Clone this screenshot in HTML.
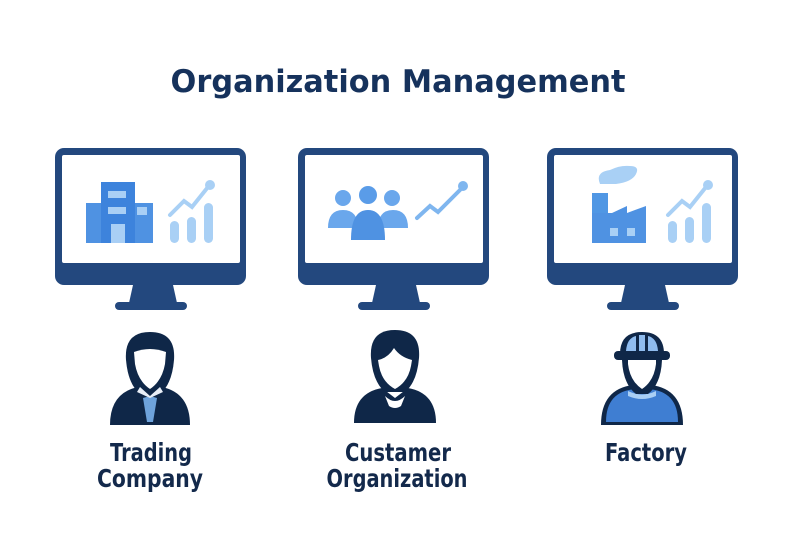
<!DOCTYPE html>
<html><head><meta charset="utf-8"><style>
body{margin:0;background:#fff}
svg{display:block}
text{font-family:"DejaVu Sans","Liberation Sans",sans-serif}
.lb{font-family:"Liberation Sans",sans-serif}
</style></head><body>
<svg width="800" height="533" viewBox="0 0 800 533" xmlns="http://www.w3.org/2000/svg">
<defs>
<g id="mon">
<rect x="0" y="0" width="191" height="137" rx="9" fill="#23487e"/>
<rect x="7" y="7" width="178" height="108" rx="2" fill="#fff"/>
<path d="M78 137 L118 137 L122 155 L74 155 Z" fill="#23487e"/>
<rect x="60" y="154" width="72" height="8" rx="4" fill="#23487e"/>
</g>
<g id="chart">
<rect x="0" y="28" width="9" height="22" rx="4.5" fill="#a9d0f5"/>
<rect x="17" y="24" width="9" height="26" rx="4.5" fill="#a9d0f5"/>
<rect x="34" y="10" width="9" height="40" rx="4.5" fill="#a9d0f5"/>
<polyline points="0,22 14,8 22,14 38,-6" fill="none" stroke="#a9d0f5" stroke-width="4" stroke-linecap="round"/>
<circle cx="40" cy="-8" r="5" fill="#a9d0f5"/>
</g>
</defs>
<text x="398" y="92" text-anchor="middle" font-size="31" font-weight="bold" fill="#16325c" textLength="455" lengthAdjust="spacingAndGlyphs">Organization Management</text>

<use href="#mon" x="55" y="148"/>
<rect x="86" y="203" width="67" height="40" fill="#4f92e2"/>
<rect x="101" y="182" width="34" height="61" fill="#3d83dc"/>
<rect x="108" y="191" width="18" height="7" fill="#a9cff5"/>
<rect x="108" y="207" width="18" height="7" fill="#a9cff5"/>
<rect x="137" y="207" width="10" height="8" fill="#a9cff5"/>
<rect x="111" y="224" width="14" height="19" fill="#a9cff5"/>
<use href="#chart" x="170" y="193"/>

<use href="#mon" x="298" y="148"/>
<circle cx="343" cy="198" r="8" fill="#6aa7ec"/>
<circle cx="368" cy="195" r="9" fill="#5a9ce8"/>
<circle cx="392" cy="198" r="8" fill="#6aa7ec"/>
<path d="M328 228 q0 -18 15 -18 q15 0 15 18 z" fill="#6aa7ec"/>
<path d="M378 228 q0 -18 15 -18 q15 0 15 18 z" fill="#6aa7ec"/>
<path d="M351 240 q0 -30 17 -30 q17 0 17 30 z" fill="#4f92e2"/>
<polyline points="417,218 430,206 438,212 460,190" fill="none" stroke="#7fb6ef" stroke-width="4" stroke-linecap="round"/>
<circle cx="463" cy="186" r="5" fill="#7fb6ef"/>

<use href="#mon" x="547" y="148"/>
<path d="M600 184 q-5 -12 10 -14 q10 -5 20 -4 q10 0 6 8 q-4 8 -20 10 z" fill="#a9d0f5"/>
<rect x="592" y="193" width="16" height="20" fill="#5097e4"/>
<path d="M592 243 L592 213 L612 213 L627 206 L627 213 L646 206 L646 243 Z" fill="#4f92e2"/>
<rect x="610" y="228" width="8" height="8" fill="#a9d0f5"/>
<rect x="627" y="228" width="8" height="8" fill="#a9d0f5"/>
<use href="#chart" x="668" y="193"/>

<g fill="#0f2748">
<path d="M110 425 q0 -32 28 -38 l12 0 l12 0 q28 6 28 38 z"/>
<path d="M126 360 q-2 -28 24 -28 q26 0 24 28 q-2 24 -14 34 h-20 q-12 -10 -14 -34 z"/>
</g>
<path d="M134 352 q16 -6 32 0 l-1 12 q-3 17 -15 25 q-12 -8 -15 -25 z" fill="#fff"/>
<path d="M150 396 l-7 2 l4 24 h6 l4 -24 z" fill="#6ea3dc"/>
<path d="M140 387 l10 9 l10 -9 l3 5 l-13 6 l-13 -6 z" fill="#e8eef7"/>

<g fill="#0f2748">
<path d="M354 423 q0 -30 28 -35 l13 10 l13 -10 q28 5 28 35 z"/>
<path d="M371 358 q-2 -28 24 -28 q26 0 24 28 q-2 24 -14 34 h-20 q-12 -10 -14 -34 z"/>
</g>
<path d="M378 360 q10 -2 16 -12 q6 9 18 12 l-1 6 q-3 16 -16 23 q-13 -7 -16 -23 z" fill="#fff"/>
<path d="M385 396 q10 10 20 0 l-4 10 q-6 4 -12 0 z" fill="#fff"/>

<path d="M601 425 q0 -36 32 -40 h18 q32 4 32 40 z" fill="#0f2748"/>
<path d="M606 422 q0 -31 30 -33 h12 q30 2 30 33 z" fill="#3f7ed2"/>
<path d="M628 391 q14 7 28 0 l0 5 q-14 6 -28 0 z" fill="#a9cff5"/>
<path d="M622 360 h40 q-1 24 -14 34 h-12 q-13 -10 -14 -34 z" fill="#0f2748"/>
<path d="M628 360 h28 v4 q-2 17 -14 25 q-12 -8 -14 -25 z" fill="#fff"/>
<path d="M620 354 q0 -22 22 -22 q22 0 22 22 z" fill="#0f2748"/>
<rect x="614" y="351" width="56" height="9" rx="4" fill="#0f2748"/>
<path d="M626 351 q1 -13 10 -15 v15 z M648 336 q9 2 10 15 h-10 z" fill="#8fbcef"/>
<rect x="639" y="335" width="6" height="16" fill="#8fbcef"/>

<g class="lb" font-size="25" font-weight="bold" fill="#13294b" text-anchor="middle">
<text x="151" y="461" textLength="82" lengthAdjust="spacingAndGlyphs">Trading</text>
<text x="150" y="487" textLength="106" lengthAdjust="spacingAndGlyphs">Company</text>
<text x="398" y="461" textLength="106" lengthAdjust="spacingAndGlyphs">Custamer</text>
<text x="397" y="487" textLength="141" lengthAdjust="spacingAndGlyphs">Organization</text>
<text x="646" y="461" textLength="82" lengthAdjust="spacingAndGlyphs">Factory</text>
</g>
</svg>
</body></html>
